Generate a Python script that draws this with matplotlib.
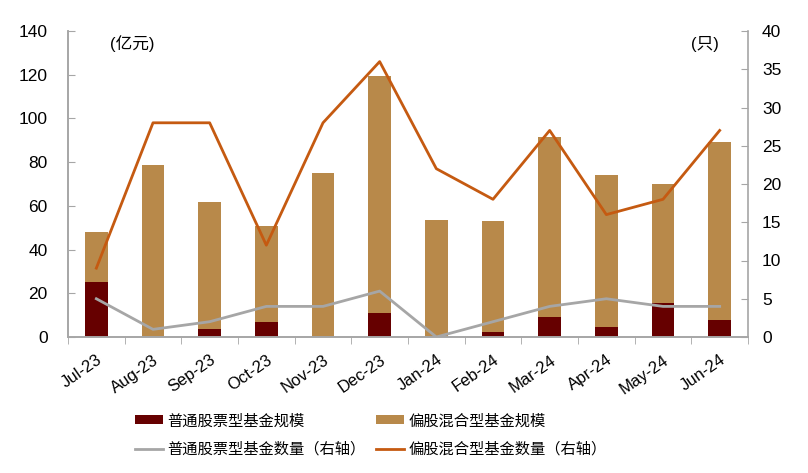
import matplotlib
matplotlib.use("Agg")
import matplotlib.pyplot as plt
import numpy as np

months = ["Jul-23", "Aug-23", "Sep-23", "Oct-23", "Nov-23", "Dec-23",
          "Jan-24", "Feb-24", "Mar-24", "Apr-24", "May-24", "Jun-24"]
stock_scale = [25.0, 0.0, 3.7, 6.7, 0.0, 10.8, 0.0, 2.3, 9.0, 4.6, 15.4, 8.0]
hybrid_scale = [23.2, 78.5, 57.9, 44.3, 75.0, 108.4, 53.7, 50.9, 82.6, 69.3, 54.6, 81.3]
stock_count = [5, 1, 2, 4, 4, 6, 0, 2, 4, 5, 4, 4]
hybrid_count = [9, 28, 28, 12, 28, 36, 22, 18, 27, 16, 18, 27]

plt.rcParams['font.family'] = ['Liberation Sans', 'Noto Sans CJK SC', 'DejaVu Sans']

fig = plt.figure(figsize=(8.08, 4.73), dpi=100)
ax = fig.add_axes([68/808, 1-337/473, (748-68)/808, (337-31)/473])
ax2 = ax.twinx()

x = np.arange(len(months))
c_dark = "#660000"
c_tan = "#B8894A"
c_gray = "#A6A6A6"
c_orange = "#C55A11"

b1 = ax.bar(x, stock_scale, width=0.4, color=c_dark, zorder=2)
b2 = ax.bar(x, hybrid_scale, width=0.4, bottom=stock_scale, color=c_tan, zorder=2)
l1, = ax2.plot(x, stock_count, color=c_gray, lw=2)
l2, = ax2.plot(x, hybrid_count, color=c_orange, lw=2)

ax.set_xlim(-0.5, len(months) - 0.5)
ax.set_ylim(0, 140)
ax.set_yticks(np.arange(0, 141, 20))
ax2.set_ylim(0, 40)
ax2.set_yticks(np.arange(0, 41, 5))

ax.set_xticks(x)
ax.set_xticklabels(months, rotation=35, ha="right", rotation_mode="anchor", fontsize=12)
ax.set_xticks(np.arange(-0.5, len(months)), minor=True)
ax.tick_params(axis="x", which="major", length=0, pad=11)
ax.tick_params(axis="x", which="minor", length=5, color="#A6A6A6", direction="out")
ax.tick_params(axis="y", direction="in", length=5, color="#A6A6A6", labelsize=12.5, pad=14.5)
ax2.tick_params(axis="y", direction="in", length=5, color="#A6A6A6", labelsize=12.5, pad=10)

for a in (ax, ax2):
    a.spines["top"].set_visible(False)
    for s in ("left", "right", "bottom"):
        a.spines[s].set_color("#A6A6A6")
        a.spines[s].set_linewidth(1.2)
ax.spines["right"].set_visible(False)

fig.text(110/808, 1-44/473, "(亿元)", fontsize=12, va="center", ha="left",
         family=['Liberation Sans', 'Noto Sans CJK SC'])
fig.text(691/808, 1-44/473, "(只)", fontsize=12, va="center", ha="left",
         family=['Liberation Sans', 'Noto Sans CJK SC'])

leg = fig.legend([b1, l1, b2, l2],
                 ["普通股票型基金规模", "普通股票型基金数量（右轴）",
                  "偏股混合型基金规模", "偏股混合型基金数量（右轴）"],
                 ncol=2, loc="center", bbox_to_anchor=(371/808, 1-435/473),
                 frameon=False, prop={"family": ['Noto Sans CJK SC', 'DejaVu Sans'], "size": 11},
                 handlelength=1.8, handleheight=0.55, columnspacing=0.7, labelspacing=0.75,
                 handletextpad=0.3, borderpad=0, borderaxespad=0)

fig.savefig("out.png", dpi=100)
